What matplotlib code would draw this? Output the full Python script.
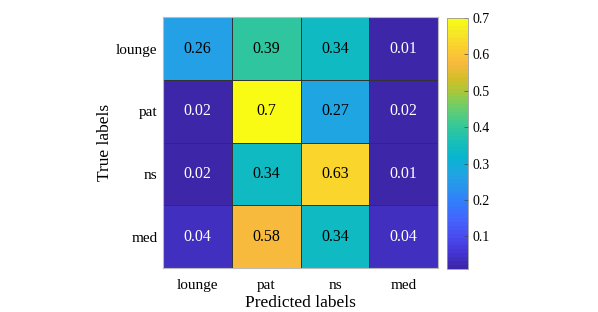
import numpy as np
import matplotlib
matplotlib.use('Agg')
from matplotlib import pyplot as plt
from matplotlib.colors import LinearSegmentedColormap

# Confusion matrix data
true_labels = ['lounge', 'pat', 'ns', 'med']
pred_labels = ['lounge', 'pat', 'ns', 'med']
row_lounge = [0.26, 0.39, 0.34, 0.01]
row_pat = [0.02, 0.70, 0.27, 0.02]
row_ns = [0.02, 0.34, 0.63, 0.01]
row_med = [0.04, 0.58, 0.34, 0.04]
cbar_ticks = [0.1, 0.2, 0.3, 0.4, 0.5, 0.6, 0.7]

cm = np.array([row_lounge, row_pat, row_ns, row_med])

# MATLAB-like parula colormap (every 4th row of parula(64))
parula_rows = [1, 5, 9, 13, 17, 21, 25, 29, 33, 37, 41, 45, 49, 53, 57, 61, 64]
parula_rgb = [
    (0.2422, 0.1504, 0.6603), (0.2706, 0.2147, 0.8364), (0.2813, 0.3006, 0.9414),
    (0.2699, 0.3892, 0.9906), (0.1963, 0.4847, 0.9892), (0.1687, 0.5703, 0.9359),
    (0.1248, 0.6459, 0.8883), (0.0297, 0.7082, 0.8163), (0.0964, 0.7500, 0.7120),
    (0.2161, 0.7843, 0.5923), (0.3909, 0.8029, 0.4354), (0.6174, 0.7876, 0.2612),
    (0.8203, 0.7498, 0.1535), (0.9728, 0.7298, 0.2394), (0.9892, 0.8136, 0.1885),
    (0.9597, 0.9135, 0.1423), (0.9769, 0.9839, 0.0805),
]
parula = LinearSegmentedColormap.from_list(
    'parula', [((r - 1) / 63.0, c) for r, c in zip(parula_rows, parula_rgb)], N=64)

plt.rcParams['font.family'] = ['Liberation Serif', 'DejaVu Serif']

fig = plt.figure(figsize=(5.98, 3.12), dpi=100)
ax = fig.add_axes([0.2726, 0.141, 0.46, 0.804])
vmin, vmax = cm.min(), cm.max()
im = ax.pcolormesh(cm, cmap=parula, vmin=vmin, vmax=vmax,
                   edgecolor='#333333', linewidth=0.6)
ax.set_xlim(0, 4)
ax.set_ylim(4, 0)

for i in range(cm.shape[0]):
    for j in range(cm.shape[1]):
        v = cm[i, j]
        col = 'white' if v < 0.1 else 'black'
        ax.text(j + 0.5, i + 0.5, '%g' % v, ha='center', va='center',
                fontsize=11.5, color=col)

ax.set_xticks(np.arange(4) + 0.5)
ax.set_xticklabels(pred_labels, fontsize=11)
ax.set_yticks(np.arange(4) + 0.5)
ax.set_yticklabels(true_labels, fontsize=11)
ax.tick_params(axis='x', length=0, pad=8)
ax.tick_params(axis='y', length=0, pad=4)
ax.set_xlabel('Predicted labels', fontsize=12.5, labelpad=2)
ax.set_ylabel('True labels', fontsize=12.5, labelpad=2)
for s in ax.spines.values():
    s.set_color('#bbbbbb')
    s.set_linewidth(0.8)

cax = fig.add_axes([0.7475, 0.138, 0.035, 0.804])
cb = fig.colorbar(im, cax=cax, ticks=cbar_ticks)
cb.ax.tick_params(labelsize=10, direction='in', length=3, width=0.5, color='#444444')
cb.ax.set_yticklabels(['%g' % t for t in cbar_ticks])
cb.outline.set_edgecolor('#999999')
cb.outline.set_linewidth(0.6)

plt.savefig('out.png', dpi=100)
